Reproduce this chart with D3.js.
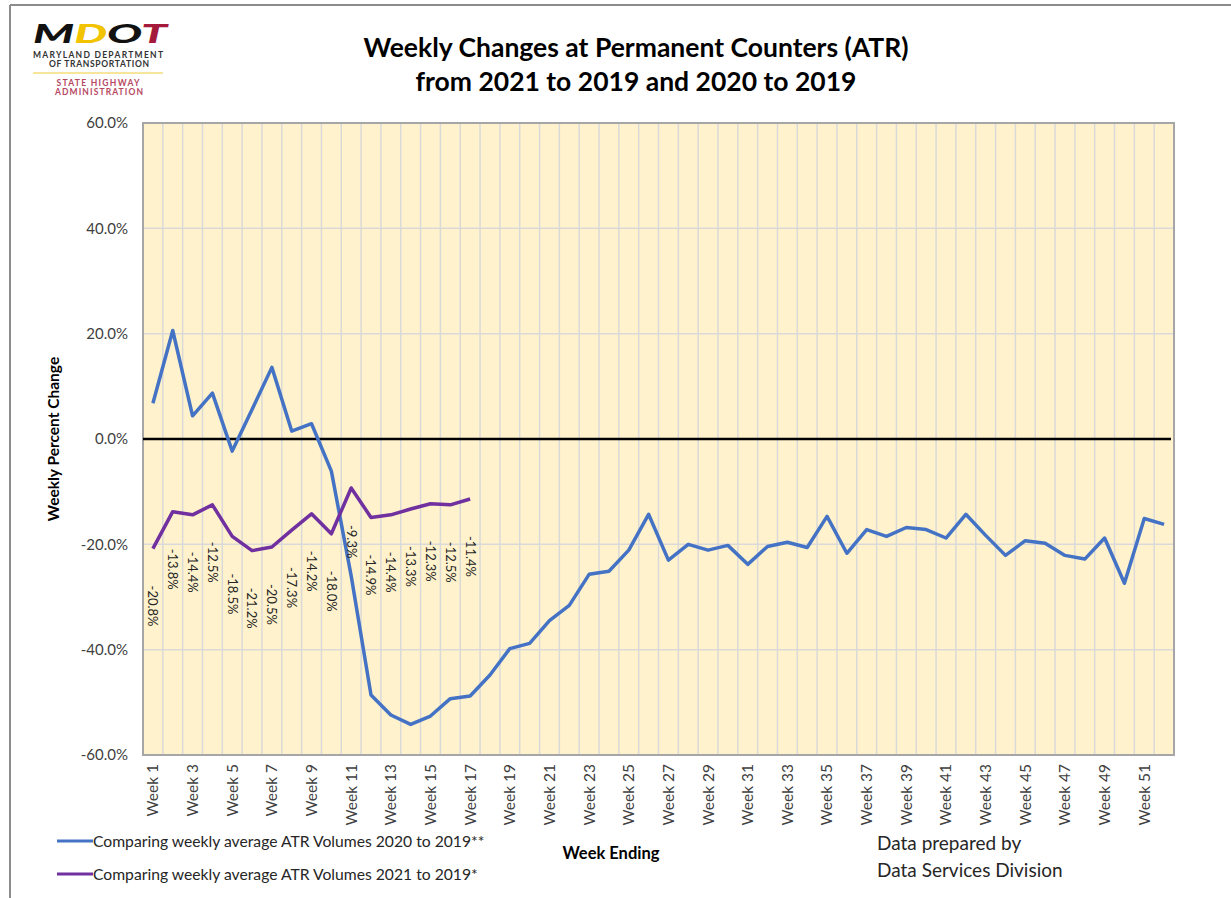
<!DOCTYPE html>
<html>
<head>
<meta charset="utf-8">
<script src="https://cdn.jsdelivr.net/npm/d3@7"></script>
<style>
  body { margin: 0; background: #fff; }
  text { font-family: Lato, "Open Sans", sans-serif; }
</style>
</head>
<body>
<script>
var width = 1231,
    height = 898;

// weeks 1..52
var weeks = d3.range(1, 53).map(function(d) { return "Week " + d; });
var tickWeeks = weeks.filter(function(d, i) { return i % 2 === 0; });

// 2020 vs 2019 (blauw)
var vol2020 = [6.8, 20.6, 4.4, 8.7, -2.3, 5.6, 13.6, 1.5, 2.9, -6.1,
               -26.0, -48.6, -52.4, -54.2, -52.6, -49.3, -48.8, -44.8, -39.8, -38.8,
               -34.5, -31.6, -25.7, -25.1, -21.1, -14.3, -23.0, -20.0, -21.1, -20.2,
               -23.8, -20.4, -19.6, -20.6, -14.7, -21.7, -17.2, -18.5, -16.8, -17.2,
               -18.8, -14.3, -18.3, -22.1, -19.3, -19.8, -22.1, -22.8, -18.8, -27.4,
               -15.1, -16.2];

// 2021 vs 2019 (paars), tot week 17
var vol2021 = [-20.8, -13.8, -14.4, -12.5, -18.5, -21.2, -20.5, -17.3, -14.2, -18.0,
               -9.3, -14.9, -14.4, -13.3, -12.3, -12.5, -11.4];

var yTicks = [60, 40, 20, 0, -20, -40, -60];

var legendLabels = ["Comparing weekly average ATR Volumes 2020 to 2019**",
                    "Comparing weekly average ATR Volumes 2021 to 2019*"];
var colors = ["#4472C4", "#7030A0"];

var margin = { left: 143, right: 1174, top: 123, bottom: 755 };

var svg = d3.select("body").append("svg")
    .attr("width", width)
    .attr("height", height);

// rand rond de figuur
svg.append("line").attr("x1", 10).attr("x2", width).attr("y1", 5).attr("y2", 5)
    .style("stroke", "#8c8c8c").style("stroke-width", 2);
svg.append("line").attr("x1", 10).attr("x2", 10).attr("y1", 5).attr("y2", height)
    .style("stroke", "#8c8c8c").style("stroke-width", 2);

var x = d3.scaleBand()
    .domain(weeks)
    .range([margin.left, margin.right]);

var y = d3.scaleLinear()
    .domain([-60, 60])
    .range([margin.bottom, margin.top]);

// plot achtergrond
svg.append("rect")
    .attr("x", margin.left).attr("y", margin.top)
    .attr("width", margin.right - margin.left)
    .attr("height", margin.bottom - margin.top)
    .style("fill", "#FFF2CC");

// verticale gridlijnen op de grenzen van de categorieen
svg.append("g").selectAll("line")
    .data(weeks.slice(1))
  .enter().append("line")
    .attr("x1", function(d) { return x(d); })
    .attr("x2", function(d) { return x(d); })
    .attr("y1", margin.top).attr("y2", margin.bottom)
    .style("stroke", "#D9D9D9").style("stroke-width", 1.5);

svg.append("g").selectAll("line")
    .data(yTicks.filter(function(d) { return d !== 0; }))
  .enter().append("line")
    .attr("x1", margin.left).attr("x2", margin.right)
    .attr("y1", function(d) { return y(d); })
    .attr("y2", function(d) { return y(d); })
    .style("stroke", "#D9D9D9").style("stroke-width", 1.5);

svg.append("rect")
    .attr("x", margin.left).attr("y", margin.top)
    .attr("width", margin.right - margin.left)
    .attr("height", margin.bottom - margin.top)
    .style("fill", "none").style("stroke", "#A6A6A6").style("stroke-width", 2);

// nul lijn
svg.append("line")
    .attr("x1", margin.left).attr("x2", margin.right - 3)
    .attr("y1", y(0)).attr("y2", y(0))
    .style("stroke", "#000").style("stroke-width", 2.5);

// y as
svg.append("g").selectAll("text")
    .data(yTicks)
  .enter().append("text")
    .attr("x", margin.left - 15)
    .attr("y", function(d) { return y(d); })
    .attr("dy", ".35em")
    .attr("text-anchor", "end")
    .style("font-size", "15px")
    .style("fill", "#404040")
    .text(function(d) { return d.toFixed(1) + "%"; });

svg.append("text")
    .attr("transform", "translate(59," + y(0) + ") rotate(-90)")
    .attr("text-anchor", "middle")
    .style("font-size", "15.5px")
    .style("font-weight", "bold")
    .text("Weekly Percent Change");

// x as labels
svg.append("g").selectAll("text")
    .data(tickWeeks)
  .enter().append("text")
    .attr("transform", function(d) {
      return "translate(" + (x(d) + x.bandwidth() / 2) + "," + (margin.bottom + 9) + ") rotate(-90)";
    })
    .attr("dy", ".35em")
    .attr("text-anchor", "end")
    .style("font-size", "15.5px")
    .style("fill", "#404040")
    .text(function(d) { return d; });

// lijnen
var line = d3.line()
    .x(function(d, i) { return x(weeks[i]) + x.bandwidth() / 2; })
    .y(function(d) { return y(d); });

[vol2020, vol2021].forEach(function(series, k) {
  svg.append("path")
      .datum(series)
      .attr("d", line)
      .style("fill", "none")
      .style("stroke", colors[k])
      .style("stroke-width", 3.5)
      .style("stroke-linejoin", "round");
});

// data labels paarse lijn
svg.append("g").selectAll("text")
    .data(vol2021)
  .enter().append("text")
    .attr("transform", function(d, i) {
      return "translate(" + (x(weeks[i]) + x.bandwidth() / 2) + "," + (y(d) + 37) + ") rotate(90)";
    })
    .attr("dy", ".35em")
    .style("font-size", "13px")
    .style("fill", "#262626")
    .text(function(d) { return d.toFixed(1) + "%"; });

// titel
svg.append("text")
    .attr("x", 636).attr("y", 57)
    .attr("text-anchor", "middle")
    .style("font-size", "26.5px").style("font-weight", "bold")
    .text("Weekly Changes at Permanent Counters (ATR)");
svg.append("text")
    .attr("x", 636).attr("y", 91)
    .attr("text-anchor", "middle")
    .style("font-size", "26.5px").style("font-weight", "bold")
    .text("from 2021 to 2019 and 2020 to 2019");

// legenda
var legend = svg.append("g").selectAll("g")
    .data(legendLabels)
  .enter().append("g")
    .attr("transform", function(d, i) { return "translate(57," + (841 + i * 33) + ")"; });
legend.append("line")
    .attr("x1", 0).attr("x2", 36)
    .style("stroke", function(d, i) { return colors[i]; })
    .style("stroke-width", 3);
legend.append("text")
    .attr("x", 36).attr("dy", ".35em")
    .style("font-size", "15.7px")
    .style("fill", "#262626")
    .text(function(d) { return d; });

svg.append("text")
    .attr("x", 611).attr("y", 859)
    .attr("text-anchor", "middle")
    .style("font-size", "16.5px").style("font-weight", "bold")
    .text("Week Ending");

svg.append("text")
    .attr("x", 877).attr("y", 850)
    .style("font-size", "19px").style("fill", "#262626")
    .text("Data prepared by");
svg.append("text")
    .attr("x", 877).attr("y", 877)
    .style("font-size", "19px").style("fill", "#262626")
    .text("Data Services Division");

// logo
var logo = svg.append("g");
var mdot = logo.append("text")
    .attr("x", 33).attr("y", 43)
    .attr("textLength", 134)
    .attr("lengthAdjust", "spacingAndGlyphs")
    .style("font-size", "27px").style("font-weight", "900")
    .style("font-style", "italic");
mdot.append("tspan").style("fill", "#111").text("M");
mdot.append("tspan").style("fill", "#F2C300").text("D");
mdot.append("tspan").style("fill", "#111").text("O");
mdot.append("tspan").style("fill", "#A5193A").text("T");
logo.append("text").attr("x", 98).attr("y", 58).attr("text-anchor", "middle")
    .attr("textLength", 130)
    .style("font-size", "8.5px").style("font-weight", "bold").style("fill", "#333")
    .text("MARYLAND DEPARTMENT");
logo.append("text").attr("x", 99).attr("y", 67).attr("text-anchor", "middle")
    .attr("textLength", 100)
    .style("font-size", "8.5px").style("font-weight", "bold").style("fill", "#333")
    .text("OF TRANSPORTATION");
logo.append("line").attr("x1", 33).attr("x2", 163).attr("y1", 73).attr("y2", 73)
    .style("stroke", "#F5DC7A").style("stroke-width", 1.5);
logo.append("text").attr("x", 98).attr("y", 86).attr("text-anchor", "middle")
    .attr("textLength", 83)
    .style("font-size", "8.5px").style("font-weight", "bold").style("fill", "#B5475F")
    .text("STATE HIGHWAY");
logo.append("text").attr("x", 99).attr("y", 95).attr("text-anchor", "middle")
    .attr("textLength", 88)
    .style("font-size", "8.5px").style("font-weight", "bold").style("fill", "#B5475F")
    .text("ADMINISTRATION");
</script>
</body>
</html>
